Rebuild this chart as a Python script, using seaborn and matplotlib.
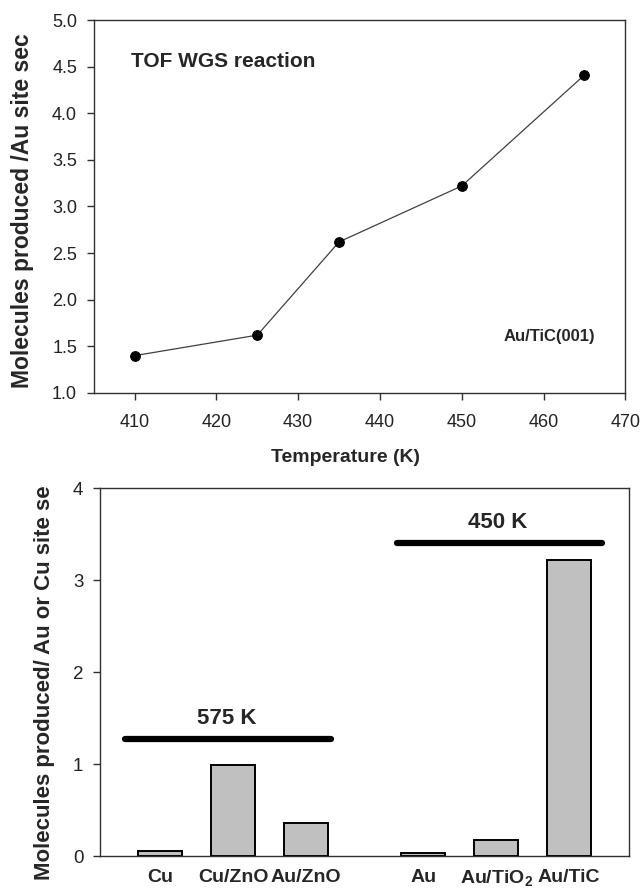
import matplotlib
matplotlib.use("Agg")
import matplotlib.pyplot as plt
import seaborn as sns
import pandas as pd
import numpy as np

# ---- data ----
temperature = [410, 425, 435, 450, 465]
tof = [1.40, 1.62, 2.62, 3.22, 4.41]

catalysts = ["Cu", "Cu/ZnO", "Au/ZnO", "Au", "Au/TiO$_\\mathbf{2}$", "Au/TiC"]
groups = ["575 K", "575 K", "575 K", "450 K", "450 K", "450 K"]
rates = [0.06, 0.99, 0.36, 0.03, 0.17, 3.22]
group_labels = ["575 K", "450 K"]
group_levels = [1.27, 3.40]

sns.set_theme(style="ticks")
plt.rcParams['font.family'] = ['Liberation Sans', 'DejaVu Sans']
plt.rcParams['mathtext.fontset'] = 'custom'
plt.rcParams['mathtext.rm'] = 'Liberation Sans'
plt.rcParams['mathtext.bf'] = 'Liberation Sans:bold'

spine_c = '#303030'

fig = plt.figure(figsize=(6.42, 8.89), dpi=100)

# ---------------- top panel ----------------
ax1 = fig.add_axes([0.146, 0.558, 0.828, 0.4195])
df1 = pd.DataFrame({"T": temperature, "TOF": tof})
sns.lineplot(data=df1, x="T", y="TOF", ax=ax1, color='#404040', linewidth=0.9,
             marker='o', markersize=7, markerfacecolor='black',
             markeredgecolor='black')
ax1.set_xlim(405, 470)
ax1.set_ylim(1.0, 5.0)
ax1.set_xticks(np.arange(410, 471, 10))
yt = np.arange(1.0, 5.01, 0.5)
ax1.set_yticks(yt)
ax1.set_yticklabels([f"{v:.1f}" for v in yt])
ax1.tick_params(direction='out', length=5, width=1, color=spine_c,
                labelsize=13, labelcolor='#222222')
ax1.tick_params(axis='x', pad=10)
ax1.tick_params(axis='y', pad=7)
for s in ax1.spines.values():
    s.set_visible(True)
    s.set_color(spine_c)
    s.set_linewidth(1)
ax1.set_xlabel("Temperature (K)", fontsize=14, fontweight='bold')
ax1.xaxis.set_label_coords(0.473, -0.15)
ax1.set_ylabel("Molecules produced /Au site sec", fontsize=16.5,
               fontweight='bold')
ax1.yaxis.set_label_coords(-0.112, 0.49)
ax1.text(409.5, 4.55, "TOF WGS reaction", fontsize=15, fontweight='bold',
         va='center', ha='left')
ax1.text(466.3, 1.60, "Au/TiC(001)", fontsize=12, fontweight='bold',
         va='center', ha='right')

# ---------------- bottom panel ----------------
ax2 = fig.add_axes([0.156, 0.037, 0.824, 0.414])
gap = 0.6
pos = []
grp_idx = 0
for i, g in enumerate(groups):
    if i > 0 and g != groups[i - 1]:
        grp_idx += 1
    pos.append(i + grp_idx * gap)
df2 = pd.DataFrame({"pos": pos, "rate": rates})
sns.barplot(data=df2, x="pos", y="rate", native_scale=True, width=0.6,
            color='#c0c0c0', saturation=1, edgecolor='black', linewidth=1.4,
            ax=ax2)
ax2.set_xlim(-0.82, 6.42)
ax2.set_ylim(0, 4)
ax2.set_yticks([0, 1, 2, 3, 4])
ax2.set_xticks(pos)
ax2.set_xticklabels(catalysts, fontweight='bold', fontsize=14)
ax2.tick_params(axis='y', direction='out', length=5, width=1, color=spine_c,
                labelsize=13.5, labelcolor='#222222', pad=7)
ax2.tick_params(axis='x', length=0, pad=9)
for s in ax2.spines.values():
    s.set_visible(True)
    s.set_color(spine_c)
    s.set_linewidth(1)
ax2.set_xlabel("")
ax2.set_ylabel("Molecules produced/ Au or Cu site se", fontsize=16,
               fontweight='bold')
ax2.yaxis.set_label_coords(-0.085, 0.47)

# group bars spanning each temperature group
span_pad = [(-0.48, 0.34), (-0.355, 0.45)]
for gl, lvl, (pl, pr) in zip(group_labels, group_levels, span_pad):
    gp = [p for p, g in zip(pos, groups) if g == gl]
    x0, x1 = min(gp) + pl, max(gp) + pr
    ax2.plot([x0, x1], [lvl, lvl], color='black', lw=4.5,
             solid_capstyle='round')
    ax2.text((x0 + x1) / 2 - 0.02, lvl + 0.23, gl, fontsize=16,
             fontweight='bold', ha='center', va='center')

fig.savefig("out.png", dpi=100)
